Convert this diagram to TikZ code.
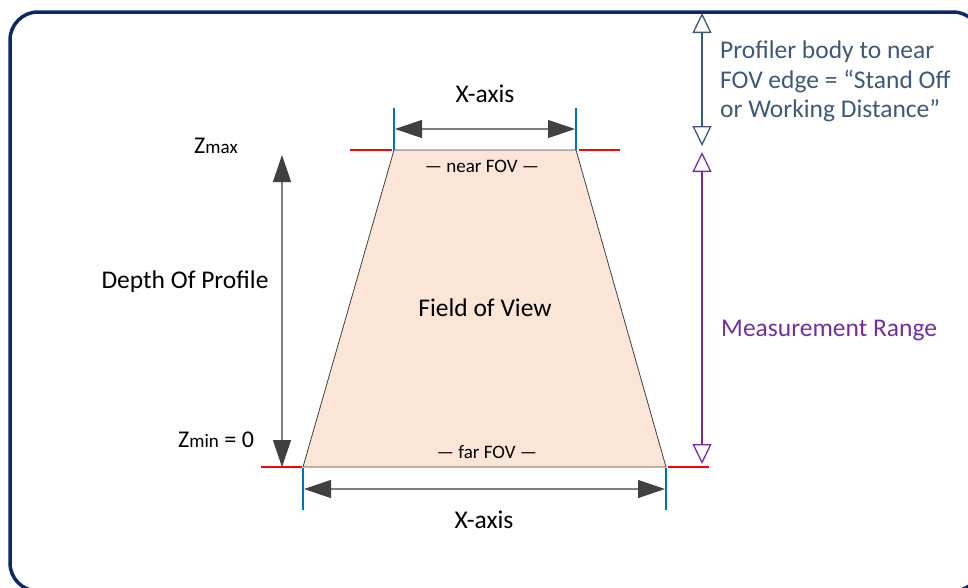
\documentclass[tikz,border=0pt]{standalone}
\usepackage{fontspec}
\setmainfont{Carlito}
\usetikzlibrary{arrows.meta}
\definecolor{framec}{HTML}{0E2A66}
\definecolor{fovfill}{HTML}{FBE5D6}
\definecolor{darkg}{HTML}{404040}
\definecolor{lineg}{HTML}{7F7F7F}
\definecolor{slate}{HTML}{3E5877}
\definecolor{purp}{HTML}{7030A0}
\definecolor{redl}{HTML}{FF0000}
\definecolor{bluel}{HTML}{0070C0}
\begin{document}
\begin{tikzpicture}[x=1pt,y=-1pt,
  solidarrow/.style={draw=lineg, line width=1.1pt,
    {Triangle[length=27pt,width=18pt,color=darkg]}-{Triangle[length=27pt,width=18pt,color=darkg]}},
  openarrow/.style={line width=1.3pt,
    {Triangle[open,length=20pt,width=19pt]}-{Triangle[open,length=20pt,width=19pt]}},
  redmark/.style={draw=redl, line width=2pt},
  bluemark/.style={draw=bluel, line width=2pt},
  lbl/.style={font=\fontsize{25.5}{30}\selectfont, inner sep=0pt},
  zlbl/.style={font=\fontsize{24}{28}\selectfont, inner sep=0pt},
  small/.style={font=\fontsize{19}{22}\selectfont, inner sep=0pt}]

\useasboundingbox (0,0) rectangle (968,587);
\draw[framec, line width=3.5pt, rounded corners=28pt] (10,12) rectangle (981,591);

% field of view
\coordinate (TL) at (394,150);
\coordinate (TR) at (576,150);
\coordinate (BL) at (303,467);
\coordinate (BR) at (666,467);
\draw[fill=fovfill, draw=darkg, line width=0.8pt] (TL) -- (TR) -- (BR) -- (BL) -- cycle;

% red level marks
\draw[redmark] (350,150) -- (392,150);
\draw[redmark] (579,150) -- (620,150);
\draw[redmark] (261,467) -- (302,467);
\draw[redmark] (668,467) -- (709,467);

% blue ticks
\draw[bluemark] (394,108) -- (394,150);
\draw[bluemark] (576,108) -- (576,150);
\draw[bluemark] (303,468) -- (303,510);
\draw[bluemark] (666,468) -- (666,510);

% arrows
\coordinate (xa1) at (395,129);
\coordinate (xa2) at (575,129);
\draw[solidarrow] (xa1) -- (xa2);
\coordinate (xb1) at (304,489);
\coordinate (xb2) at (665,489);
\draw[solidarrow] (xb1) -- (xb2);
\coordinate (d1) at (282,155);
\coordinate (d2) at (282,467);
\draw[solidarrow] (d1) -- (d2);
\coordinate (s1) at (702,13);
\coordinate (s2) at (702,146);
\draw[openarrow, slate] (s1) -- (s2);
\coordinate (m1) at (702,152);
\coordinate (m2) at (702,464);
\draw[openarrow, purp] (m1) -- (m2);

% labels
\node[lbl, anchor=base] (xtop) at (485,102) {X-axis};
\node[lbl, anchor=base] (xbot) at (484,528) {X-axis};
\node[small, anchor=base] (near) at (482,172) {— near FOV —};
\node[small, anchor=base] (far) at (487,458) {— far FOV —};
\node[lbl, anchor=base] (fov) at (485,316) {Field of View};
\node[lbl, anchor=base] (dop) at (185,288) {Depth Of Profile};
\node[zlbl, anchor=base west] (zmax) at (194,153) {Z{\fontsize{19}{22}\selectfont max}};
\node[zlbl, anchor=base west] (zmin) at (178,447) {Z{\fontsize{19}{22}\selectfont min} = 0};
\node[lbl, anchor=base west, text=slate] (so1) at (720,58) {Profiler body to near};
\node[lbl, anchor=base west, text=slate] (so2) at (720,88) {FOV edge = “Stand Off};
\node[lbl, anchor=base west, text=slate] (so3) at (720,117) {or Working Distance”};
\node[lbl, anchor=base west, text=purp] (mr) at (721,336) {Measurement Range};
\end{tikzpicture}
\end{document}
